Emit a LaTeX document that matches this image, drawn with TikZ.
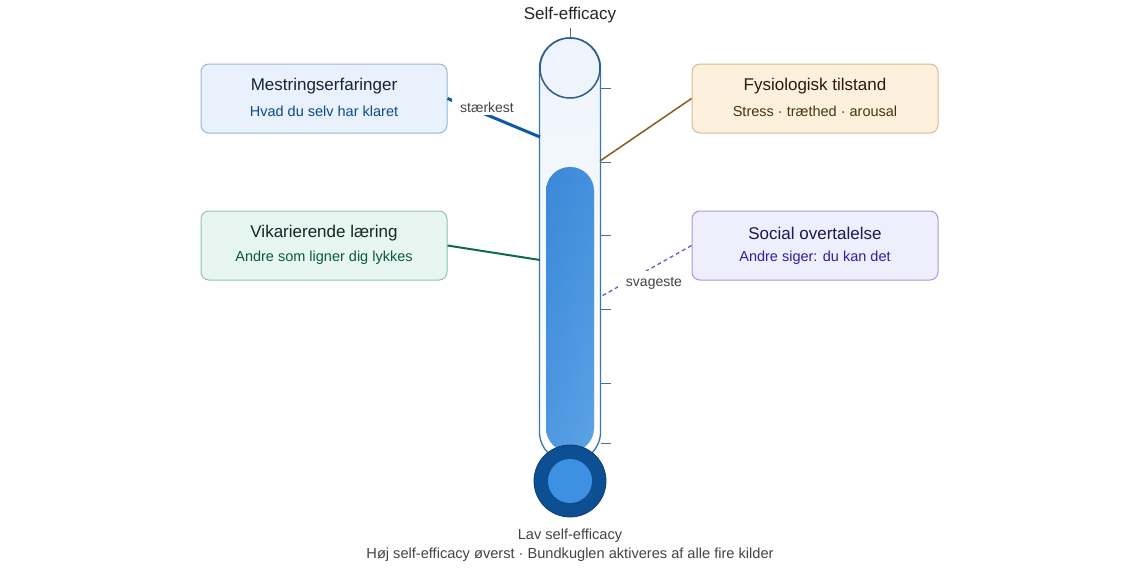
\documentclass[tikz,border=0pt]{standalone}
\usepackage{fontspec}
\setmainfont{Liberation Sans}
\usetikzlibrary{calc}
\definecolor{tubeline}{HTML}{3A74AD}
\definecolor{tubefill}{HTML}{EDF4FC}
\definecolor{colA}{HTML}{3A88D8}
\definecolor{colB}{HTML}{5CA2E6}
\definecolor{bulbout}{HTML}{0D4F93}
\definecolor{bulbin}{HTML}{3E90E3}
\definecolor{mfill}{HTML}{E9F2FC}\definecolor{mdraw}{HTML}{94B7DD}\definecolor{mtitle}{HTML}{14243A}\definecolor{msub}{HTML}{0D4A8F}\definecolor{mline}{HTML}{0D5AA7}
\definecolor{ffill}{HTML}{FDF1DE}\definecolor{fdraw}{HTML}{D8BB8C}\definecolor{ftitle}{HTML}{2A1C08}\definecolor{fsub}{HTML}{4A3210}\definecolor{fline}{HTML}{8A5A1E}
\definecolor{vfill}{HTML}{E7F6F0}\definecolor{vdraw}{HTML}{90C7AD}\definecolor{vtitle}{HTML}{0F2A20}\definecolor{vsub}{HTML}{0B5A3C}\definecolor{vline}{HTML}{0E6B4A}
\definecolor{sfill}{HTML}{EFEEFD}\definecolor{sdraw}{HTML}{A39BE0}\definecolor{stitle}{HTML}{1C1850}\definecolor{ssub}{HTML}{2A20A8}\definecolor{sline}{HTML}{6A5AD0}
\definecolor{txtgray}{HTML}{444444}
\tikzset{
  srcbox/.style={draw=#1draw, fill=#1fill, line width=1pt, rounded corners=8pt, minimum width=246pt, minimum height=69pt, inner sep=0pt},
  ttl/.style={font=\fontsize{17}{20}\selectfont, text=#1title, inner sep=0pt, anchor=center},
  sub/.style={font=\fontsize{14.5}{17}\selectfont, text=#1sub, inner sep=0pt, anchor=center},
  tick/.style={draw=tubeline, line width=1pt},
  grytxt/.style={font=\fontsize{14.6}{17}\selectfont, text=txtgray, inner sep=0pt},
  linelabel/.style={font=\fontsize{14}{17}\selectfont, text=txtgray, fill=white, inner xsep=8pt}
}
\begin{document}
\begin{tikzpicture}[x=1pt,y=-1pt]
\useasboundingbox (0,0) rectangle (1140,570);
\fill[white] (0,0) rectangle (1140,570);
% tube
\draw[tubeline, line width=1.3pt, top color=tubefill, bottom color=white, rounded corners=30pt] (539.5,38) rectangle (600.5,462);
% fill column
\shade[top color=colA, bottom color=colB, rounded corners=24pt] (546,167) rectangle (594,452);
\shade[left color=colA, right color=colB, opacity=0.35, rounded corners=24pt] (546,167) rectangle (594,452);
% top circle
\draw[draw=tubeline!80!black, line width=1.5pt, fill=tubefill] (570,68) circle (30);
% ticks
\foreach \yy in {88,162,235,309,383,443} \draw[tick] (600.5,\yy) -- (611,\yy);
% bulb
\node[circle, fill=bulbout, draw=bulbout!80!black, line width=0.8pt, minimum size=72pt, inner sep=0pt] (bulb) at (570,481) {};
\node[circle, fill=bulbin, minimum size=44pt, inner sep=0pt] (bulbcore) at (bulb.center) {};
% title
\node[font=\fontsize{17}{20}\selectfont, text=black!85, inner sep=0pt] (title) at (570,15) {Self-efficacy};
\coordinate (tubetop) at (570,38);
\draw[black!60, line width=1pt] (570,28) -- (tubetop);
% boxes
\node[srcbox=m] (m) at (324,98.5) {};
\node[ttl=m] (mt) at ($(m.center)+(0,-12.5)$) {Mestringserfaringer};
\node[sub=m] (ms) at ($(m.center)+(0,12.5)$) {Hvad du selv har klaret};
\node[srcbox=f] (f) at (815,98.5) {};
\node[ttl=f] (ft) at ($(f.center)+(0,-12.5)$) {Fysiologisk tilstand};
\node[sub=f] (fs) at ($(f.center)+(0,12.5)$) {Stress · træthed · arousal};
\node[srcbox=v] (v) at (324,245.5) {};
\node[ttl=v] (vt) at ($(v.center)+(0,-12.5)$) {Vikarierende læring};
\node[sub=v] (vs) at ($(v.center)+(0,12.5)$) {Andre som ligner dig lykkes};
\node[srcbox=s] (s) at (815,245.5) {};
\node[ttl=s] (st) at ($(s.center)+(0,-12.5)$) {Social overtalelse};
\node[sub=s] (ss) at ($(s.center)+(0,12.5)$) {Andre siger: du kan det};
% tube attach points
\coordinate (tm) at (540,137);
\coordinate (tf) at (600,161);
\coordinate (tv) at (540,260);
\coordinate (ts) at (600,297);
% connectors
\draw[mline, line width=3pt] (m.east) -- (tm);
\draw[fline, line width=1.5pt] (f.west) -- (tf);
\draw[vline, line width=2pt] (v.east) -- (tv);
\draw[sline, line width=1.3pt, dash pattern=on 4pt off 3pt] (s.west) -- (ts);
\node[linelabel, inner ysep=3pt] (lstrong) at (487,107) {stærkest};
\node[linelabel, inner ysep=6pt] (lweak) at (654,283) {svageste};
% bottom texts
\node[grytxt] (low) at (570,536) {Lav self-efficacy};
\node[grytxt] (foot) at (570,555) {Høj self-efficacy øverst · Bundkuglen aktiveres af alle fire kilder};
\end{tikzpicture}
\end{document}
